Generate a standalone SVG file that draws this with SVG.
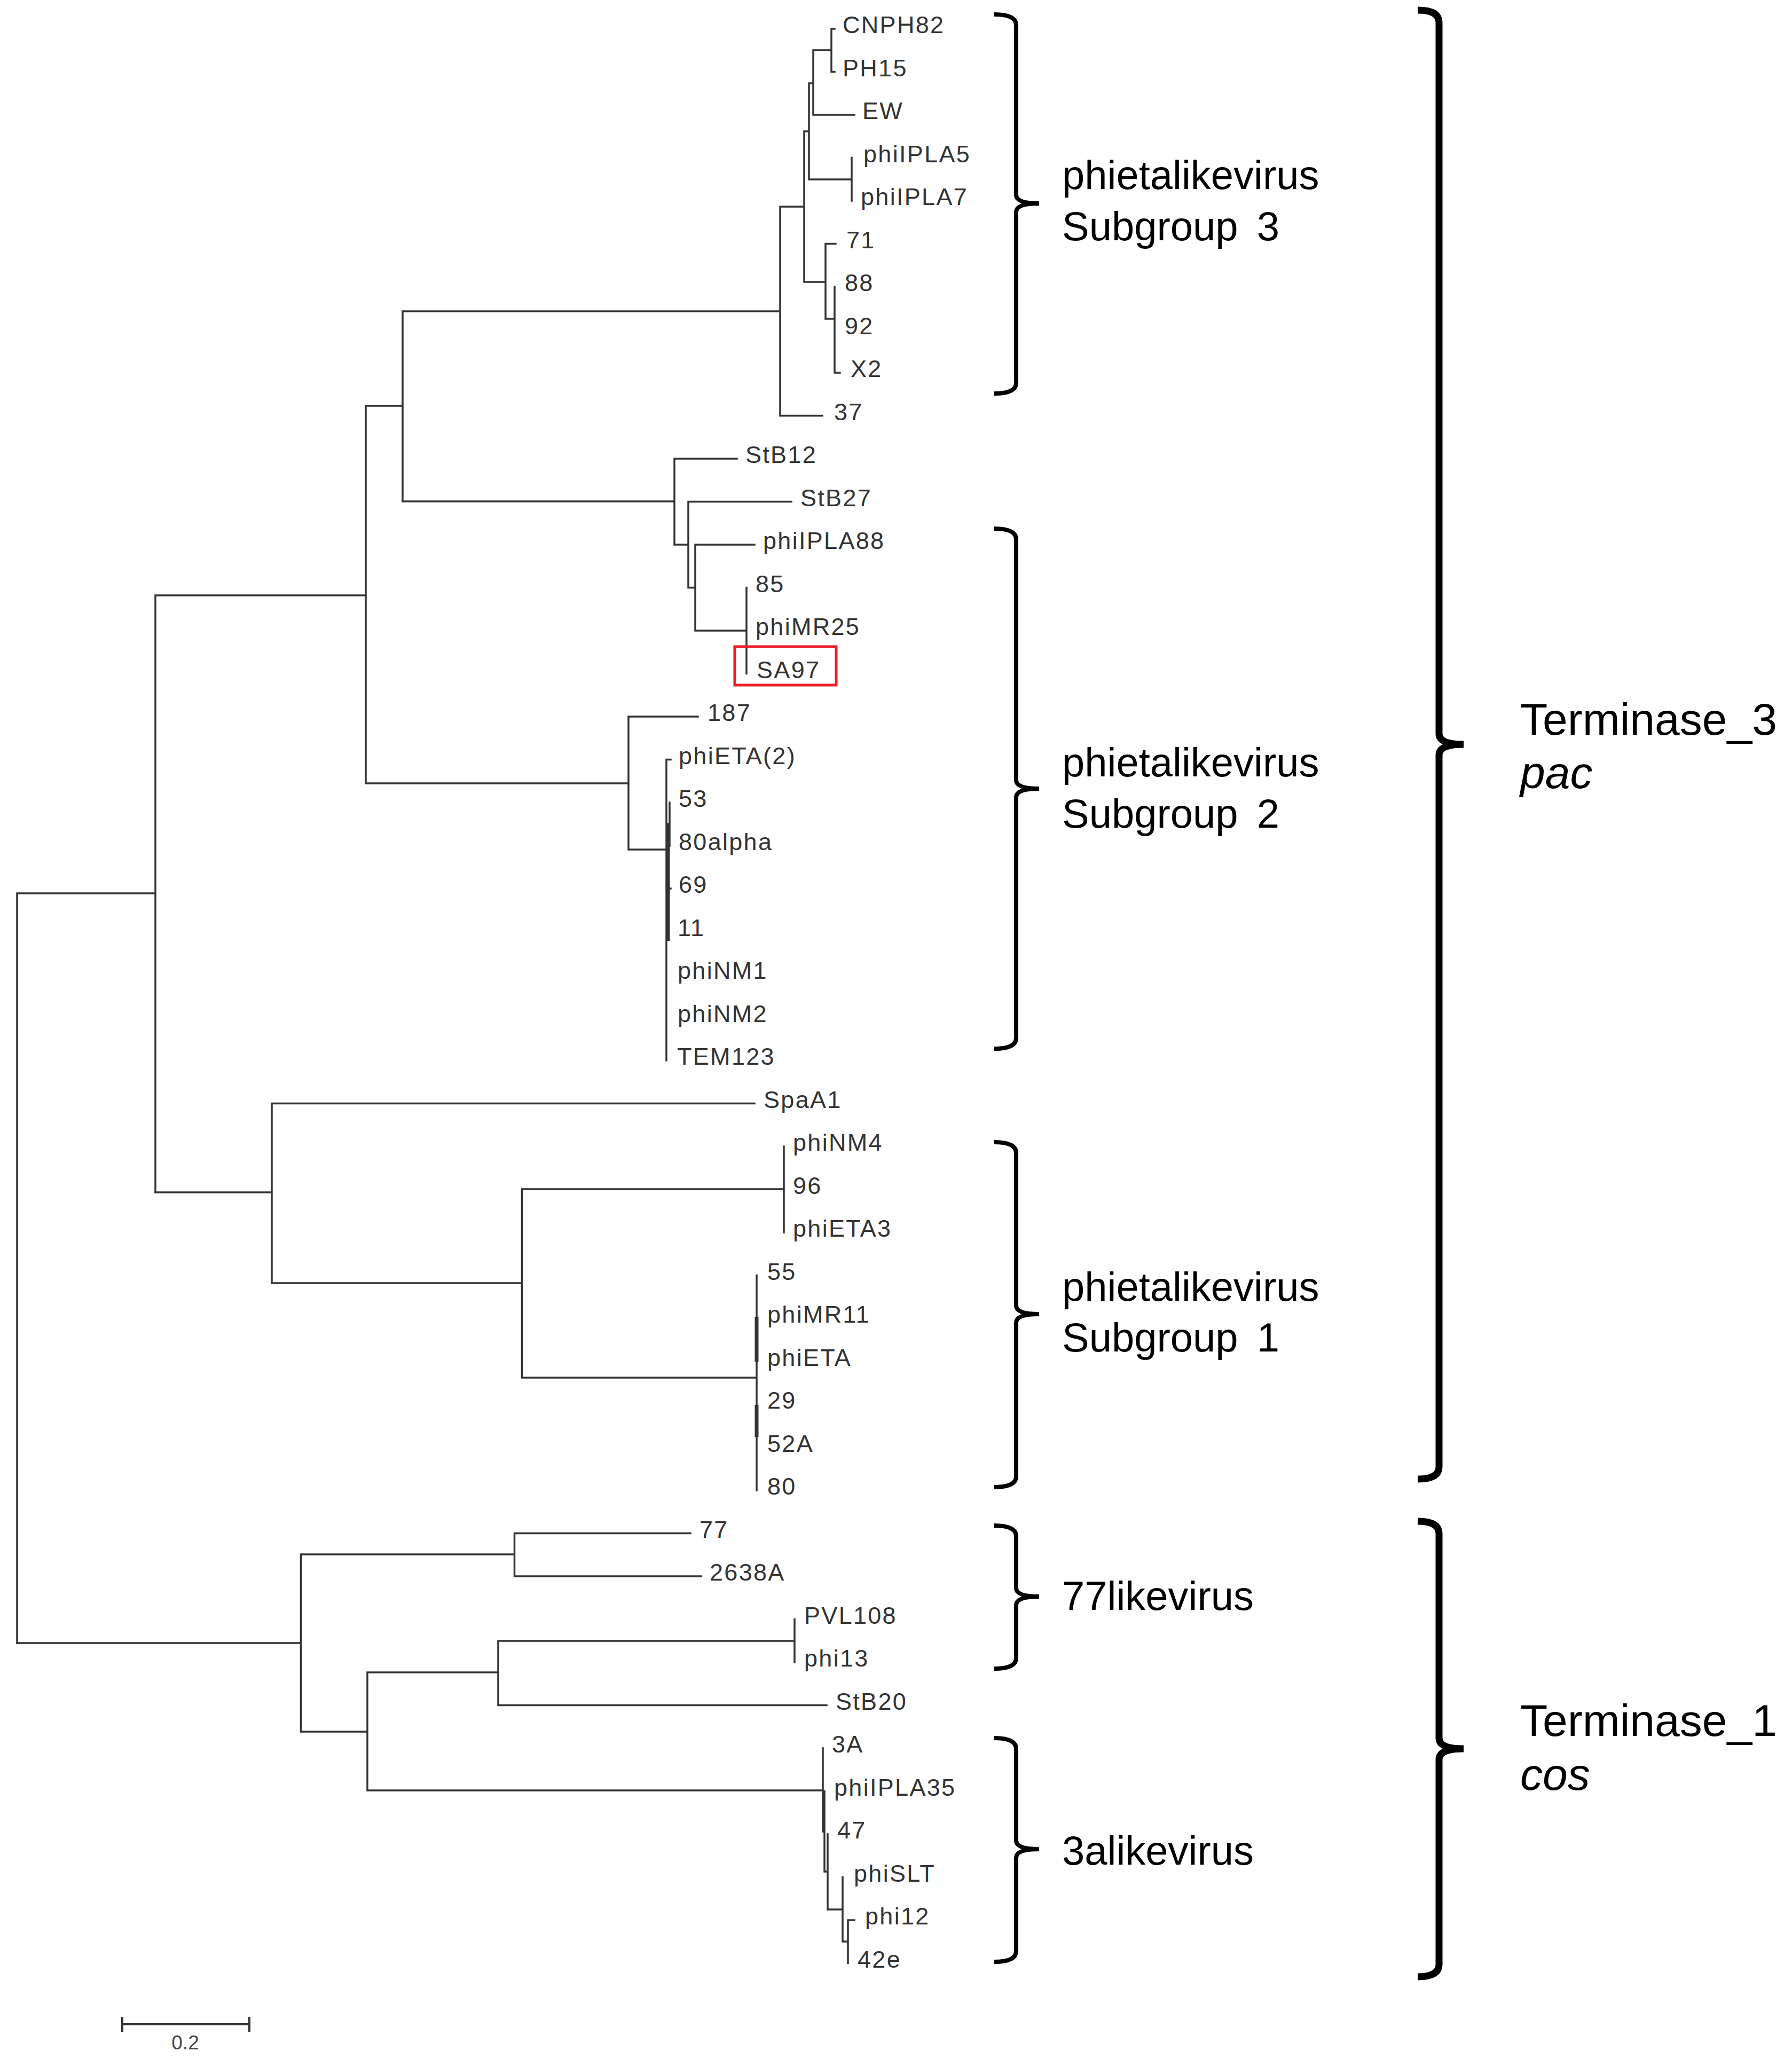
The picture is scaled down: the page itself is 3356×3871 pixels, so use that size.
<svg xmlns="http://www.w3.org/2000/svg" width="3356" height="3871" viewBox="0 0 3356 3871">
<style>
.e{fill:none;stroke:#333;stroke-width:3.5;stroke-linecap:square}
.tk{fill:none;stroke:#333;stroke-width:7}
.lf{font-family:"Liberation Sans",Arial,sans-serif;font-size:45px;letter-spacing:2.3px;fill:#333}
.gl{font-family:"Liberation Sans",Arial,sans-serif;font-size:76px;fill:#000;word-spacing:14px}
.tl{font-family:"Liberation Sans",Arial,sans-serif;font-size:84px;fill:#000}
.it{font-style:italic}
.bs{fill:none;stroke:#000;stroke-width:8}
.bb{fill:none;stroke:#000;stroke-width:13}
</style>
<rect width="3356" height="3871" fill="#fff"/>
<g id="edges">
<path class="e" d="M32,1673 V3077 M32,1673 H291 M291,1115 V2233 M291,1115 H685 M685,760 V1467 M685,760 H754 M754,583 V939 M754,583 H1461 M1461,387 V778.5 M1461,778.5 H1540 M1461,387 H1506 M1506,246 V528 M1506,246 H1515 M1515,156 V336 M1515,156 H1523 M1523,94 V215 M1523,94 H1557 M1557,54 V134.5 M1557,54 H1563 M1557,134.5 H1563 M1523,215 H1600 M1515,336 H1595 M1595,295.5 V376 M1506,528 H1546 M1546,456.5 V597 M1546,456.5 H1565 M1546,597 H1563 M1563,537 V698 M1563,698 H1573"/>
<path class="e" d="M754,939 H1263 M1263,859 V1020 M1263,859 H1380 M1263,1020 H1289 M1289,939.5 V1100.5 M1289,939.5 H1482 M1289,1100.5 H1302 M1302,1020 V1181 M1302,1020 H1413 M1302,1181 H1398 M1398,1100.5 V1261.5"/>
<path class="e" d="M685,1467 H1177 M1177,1342 V1591 M1177,1342 H1307 M1177,1591 H1248 M1248,1422.5 V1986 M1248,1422.5 H1256 M1254,1503 V1584 M1248,1543 H1254 M1248,1664 H1256"/>
<path class="tk" d="M1251,1543 V1762"/>
<path class="e" d="M291,2233 H509 M509,2066.5 V2403 M509,2066.5 H1413 M509,2403 H977.5 M977.5,2227 V2580 M977.5,2227 H1468 M1468,2147 V2308 M977.5,2580 H1417 M1417,2388.5 V2791"/>
<path class="tk" d="M1417,2466 V2550 M1417,2631 V2691"/>
<path class="e" d="M32,3077 H563.5 M563.5,2911 V3243 M563.5,2911 H963.5 M963.5,2871.5 V2952 M963.5,2871.5 H1293 M963.5,2952 H1313 M563.5,3243 H688 M688,3132 V3353 M688,3132 H933 M933,3073 V3193.5 M933,3073 H1488 M1488,3032.5 V3113 M933,3193.5 H1548 M688,3353 H1541 M1541,3274 V3430 M1544,3354.5 V3505 M1544,3505 H1550 M1550,3435 V3576 M1550,3576 H1578 M1578,3515.5 V3636 M1578,3636 H1588 M1588,3596 V3676.5 M1588,3596 H1600"/>
</g>
<g id="leaves">
<g id="n-CNPH82"><text class="lf" x="1578" y="62">CNPH82</text></g>
<g id="n-PH15"><text class="lf" x="1578" y="142.5">PH15</text></g>
<g id="n-EW"><text class="lf" x="1615" y="223">EW</text></g>
<g id="n-phiIPLA5"><text class="lf" x="1617" y="303.5">phiIPLA5</text></g>
<g id="n-phiIPLA7"><text class="lf" x="1612" y="384">phiIPLA7</text></g>
<g id="n-71"><text class="lf" x="1585" y="464.5">71</text></g>
<g id="n-88"><text class="lf" x="1582" y="545">88</text></g>
<g id="n-92"><text class="lf" x="1582" y="625.5">92</text></g>
<g id="n-X2"><text class="lf" x="1593" y="706">X2</text></g>
<g id="n-37"><text class="lf" x="1562" y="786.5">37</text></g>
<g id="n-StB12"><text class="lf" x="1396" y="867">StB12</text></g>
<g id="n-StB27"><text class="lf" x="1499" y="947.5">StB27</text></g>
<g id="n-phiIPLA88"><text class="lf" x="1429" y="1028">phiIPLA88</text></g>
<g id="n-85"><text class="lf" x="1415" y="1108.5">85</text></g>
<g id="n-phiMR25"><text class="lf" x="1415" y="1189">phiMR25</text></g>
<g id="n-SA97"><rect x="1376" y="1211" width="190" height="72" fill="none" stroke="#ee1c24" stroke-width="5"/><text class="lf" x="1417" y="1269.5">SA97</text></g>
<g id="n-187"><text class="lf" x="1325" y="1350">187</text></g>
<g id="n-phiETA2"><text class="lf" x="1271" y="1430.5">phiETA(2)</text></g>
<g id="n-53"><text class="lf" x="1271" y="1511">53</text></g>
<g id="n-80alpha"><text class="lf" x="1271" y="1591.5">80alpha</text></g>
<g id="n-69"><text class="lf" x="1271" y="1672">69</text></g>
<g id="n-11"><text class="lf" x="1269" y="1752.5">11</text></g>
<g id="n-phiNM1"><text class="lf" x="1269" y="1833">phiNM1</text></g>
<g id="n-phiNM2"><text class="lf" x="1269" y="1913.5">phiNM2</text></g>
<g id="n-TEM123"><text class="lf" x="1268" y="1994">TEM123</text></g>
<g id="n-SpaA1"><text class="lf" x="1430" y="2074.5">SpaA1</text></g>
<g id="n-phiNM4"><text class="lf" x="1485" y="2155">phiNM4</text></g>
<g id="n-96"><text class="lf" x="1485" y="2235.5">96</text></g>
<g id="n-phiETA3"><text class="lf" x="1485" y="2316">phiETA3</text></g>
<g id="n-55"><text class="lf" x="1437" y="2396.5">55</text></g>
<g id="n-phiMR11"><text class="lf" x="1437" y="2477">phiMR11</text></g>
<g id="n-phiETA"><text class="lf" x="1437" y="2557.5">phiETA</text></g>
<g id="n-29"><text class="lf" x="1437" y="2638">29</text></g>
<g id="n-52A"><text class="lf" x="1437" y="2718.5">52A</text></g>
<g id="n-80"><text class="lf" x="1437" y="2799">80</text></g>
<g id="n-77"><text class="lf" x="1310" y="2879.5">77</text></g>
<g id="n-2638A"><text class="lf" x="1329" y="2960">2638A</text></g>
<g id="n-PVL108"><text class="lf" x="1506" y="3040.5">PVL108</text></g>
<g id="n-phi13"><text class="lf" x="1506" y="3121">phi13</text></g>
<g id="n-StB20"><text class="lf" x="1565" y="3201.5">StB20</text></g>
<g id="n-3A"><text class="lf" x="1558" y="3282">3A</text></g>
<g id="n-phiIPLA35"><text class="lf" x="1562" y="3362.5">phiIPLA35</text></g>
<g id="n-47"><text class="lf" x="1568" y="3443">47</text></g>
<g id="n-phiSLT"><text class="lf" x="1599" y="3523.5">phiSLT</text></g>
<g id="n-phi12"><text class="lf" x="1620" y="3604">phi12</text></g>
<g id="n-42e"><text class="lf" x="1606" y="3684.5">42e</text></g>
</g>
<g id="grp-sub3">
<path class="bs" d="M1862,27 Q1903,27 1903,47 V365 Q1903,381 1946,381 M1862,737 Q1903,737 1903,717 V397 Q1903,381 1946,381"/>
<text class="gl" x="1989" y="354">phietalikevirus</text>
<text class="gl" x="1989" y="450">Subgroup 3</text>
</g>
<g id="grp-sub2">
<path class="bs" d="M1862,990 Q1903,990 1903,1010 V1461 Q1903,1477 1946,1477 M1862,1964 Q1903,1964 1903,1944 V1493 Q1903,1477 1946,1477"/>
<text class="gl" x="1989" y="1454">phietalikevirus</text>
<text class="gl" x="1989" y="1550">Subgroup 2</text>
</g>
<g id="grp-sub1">
<path class="bs" d="M1862,2139 Q1903,2139 1903,2159 V2445 Q1903,2461 1946,2461 M1862,2785 Q1903,2785 1903,2765 V2477 Q1903,2461 1946,2461"/>
<text class="gl" x="1989" y="2436">phietalikevirus</text>
<text class="gl" x="1989" y="2531">Subgroup 1</text>
</g>
<g id="grp-77">
<path class="bs" d="M1862,2857 Q1903,2857 1903,2877 V2974 Q1903,2990 1946,2990 M1862,3125 Q1903,3125 1903,3105 V3006 Q1903,2990 1946,2990"/>
<text class="gl" x="1989" y="3015">77likevirus</text>
</g>
<g id="grp-3a">
<path class="bs" d="M1862,3255 Q1903,3255 1903,3275 V3447 Q1903,3463 1946,3463 M1862,3674 Q1903,3674 1903,3654 V3479 Q1903,3463 1946,3463"/>
<text class="gl" x="1989" y="3492">3alikevirus</text>
</g>
<g id="grp-term3">
<path class="bb" d="M2655,19 Q2695,19 2695,42 V1374 Q2695,1394 2741,1394 M2655,2770 Q2695,2770 2695,2747 V1414 Q2695,1394 2741,1394"/>
<text class="tl" x="2847" y="1376">Terminase_3</text>
<text class="tl it" x="2847" y="1476">pac</text>
</g>
<g id="grp-term1">
<path class="bb" d="M2655,2849 Q2695,2849 2695,2872 V3255 Q2695,3275 2741,3275 M2655,3702 Q2695,3702 2695,3679 V3295 Q2695,3275 2741,3275"/>
<text class="tl" x="2847" y="3251">Terminase_1</text>
<text class="tl it" x="2847" y="3352">cos</text>
</g>
<g id="scale">
<path fill="none" stroke="#333" stroke-width="4" d="M229,3791 H467 M229,3777 V3805 M467,3777 V3805"/>
<text x="347" y="3838" text-anchor="middle" font-family="Liberation Sans, Arial, sans-serif" font-size="37" fill="#444">0.2</text>
</g>
</svg>
